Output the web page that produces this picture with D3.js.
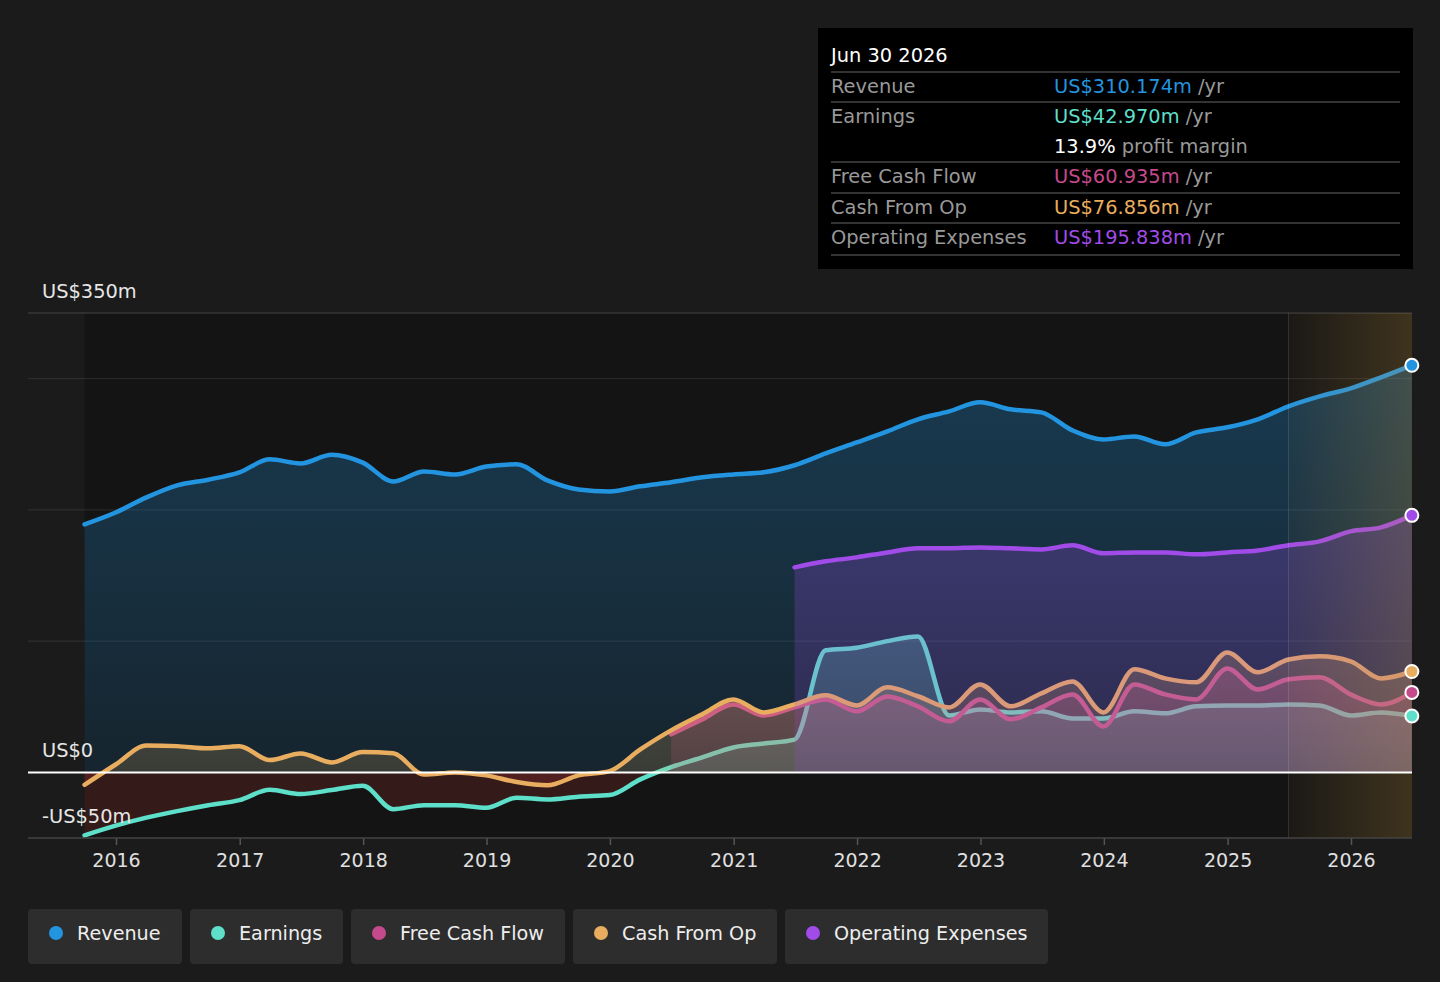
<!DOCTYPE html>
<html>
<head>
<meta charset="utf-8">
<script src="https://cdn.jsdelivr.net/npm/d3@7"></script>
<style>
  html, body { margin: 0; background: #1b1b1b; }
  svg { display: block; font-family: 'DejaVu Sans', sans-serif; }
</style>
</head>
<body>
<div class="main"></div>
<script>
// Paramètres
const width = 1440;
const height = 982;
const plot = { left: 28, right: 1412, top: 313, bottom: 838 };
const fontSize = '19.4px';

// Données (US$m, trimestrielles)
const quarters = [
  '2015-09-30', '2015-12-31',
  '2016-03-31', '2016-06-30', '2016-09-30', '2016-12-31',
  '2017-03-31', '2017-06-30', '2017-09-30', '2017-12-31',
  '2018-03-31', '2018-06-30', '2018-09-30', '2018-12-31',
  '2019-03-31', '2019-06-30', '2019-09-30', '2019-12-31',
  '2020-03-31', '2020-06-30', '2020-09-30', '2020-12-31',
  '2021-03-31', '2021-06-30', '2021-09-30', '2021-12-31',
  '2022-03-31', '2022-06-30', '2022-09-30', '2022-12-31',
  '2023-03-31', '2023-06-30', '2023-09-30', '2023-12-31',
  '2024-03-31', '2024-06-30', '2024-09-30', '2024-12-31',
  '2025-03-31', '2025-06-30', '2025-09-30', '2025-12-31',
  '2026-03-31', '2026-06-30'
];

const revenue = [
  189, 198, 209.5, 218.7, 223, 228.6, 238.5, 235.4, 242, 236,
  221.7, 229.3, 227, 233, 234.7, 222.5, 215.6, 214, 218, 221,
  224.8, 227, 228.6, 234, 243, 251.4, 259.8, 269, 275, 282,
  276.6, 274.3, 260.6, 253.7, 256, 250, 259, 262.9, 269, 278.9,
  286.5, 292.6, 301, 310.174
];

const earnings = [
  -48, -40.6, -34.5, -29.5, -25, -21.1, -13.3, -16.5, -13.5, -10.2,
  -28, -25, -25, -26.9, -19.3, -20.6, -18.5, -17.3, -5.3, 4,
  11.4, 19, 22, 25, 93, 95, 100, 103.6, 43.4, 48,
  45.7, 46.5, 41, 41, 46.5, 45, 50.3, 51, 51, 51.8,
  51, 43.4, 45.7, 42.97
];

const freeCashFlow = [
  null, null, null, null, null, null, null, null, null, null,
  null, null, null, null, null, null, null, null, null, 29,
  40.4, 51.8, 43.4, 49.5, 55.6, 46.5, 57.9, 50.3, 38.9, 55.6,
  40.4, 49.5, 59.4, 35, 67, 59.4, 55.6, 79.2, 63.2, 70.9,
  72.4, 59.4, 51.8, 60.935
];

const cashFromOp = [
  -9.5, 6, 20.5, 20, 18.3, 20, 9.4, 14.4, 7.6, 15.5,
  14.5, -1.7, 0, -2.3, -7.4, -9.9, -2.3, 1, 17.5, 32,
  44.2, 55.6, 45.7, 51.8, 58.7, 51, 64.8, 58, 49.5, 67,
  50.3, 60.2, 69.3, 45.7, 78.5, 71.6, 68.6, 91.4, 76.2, 86,
  88.4, 84.6, 71.6, 76.856
];

const operatingExpenses = [
  null, null, null, null, null, null, null, null, null, null,
  null, null, null, null, null, null, null, null, null, null,
  null, null, null, 156.2, 160.8, 163.8, 167.6, 170.7, 170.7, 171.4,
  170.7, 169.9, 173, 166.9, 167.6, 167.6, 166.1, 167.6, 169.1, 173,
  176, 183.6, 186.7, 195.838
];

const seriesNames = ['Revenue', 'Earnings', 'Free Cash Flow', 'Cash From Op', 'Operating Expenses'];
const seriesValues = [revenue, earnings, freeCashFlow, cashFromOp, operatingExpenses];
const seriesColors = ['#2394df', '#5ddfc9', '#c54a8b', '#e8ad5e', '#a14be8'];

const yearTicks = ['2016', '2017', '2018', '2019', '2020', '2021', '2022', '2023', '2024', '2025', '2026'];
const yLabelValues = [350, 0, -50];
const yLabelTexts = ['US$350m', 'US$0', '-US$50m'];
const gridValues = [300, 200, 100];
const forecastStart = '2025-06-30';

const tooltipTitle = 'Jun 30 2026';
const tooltipValues = ['US$310.174m', 'US$42.970m', 'US$60.935m', 'US$76.856m', 'US$195.838m'];
const profitMargin = '13.9%';

const parseDate = d3.timeParse('%Y-%m-%d');
const dates = quarters.map(parseDate);

// SVG
const svg = d3.select('.main')
  .append('svg')
  .attr('width', width)
  .attr('height', height);

// Échelles
const x = d3.scaleTime()
  .domain([parseDate('2016-01-01'), parseDate('2026-01-01')])
  .range([116, 1351]);

const y = d3.scaleLinear()
  .domain([-50, 350])
  .range([plot.bottom, plot.top]);

const defs = svg.append('defs');

defs.append('clipPath').attr('id', 'clip-pos')
  .append('rect')
  .attr('x', plot.left).attr('y', plot.top)
  .attr('width', plot.right - plot.left).attr('height', y(0) - plot.top);

defs.append('clipPath').attr('id', 'clip-neg')
  .append('rect')
  .attr('x', plot.left).attr('y', y(0))
  .attr('width', plot.right - plot.left).attr('height', plot.bottom - y(0));

seriesColors.forEach((c, i) => {
  const g = defs.append('linearGradient')
    .attr('id', 'grad-' + i)
    .attr('x1', 0).attr('y1', 0).attr('x2', 0).attr('y2', 1);
  g.append('stop').attr('offset', '0%').attr('stop-color', c).attr('stop-opacity', i === 0 ? 0.3 : 0.26);
  g.append('stop').attr('offset', '100%').attr('stop-color', c).attr('stop-opacity', i === 0 ? 0.13 : 0.16);
});

const fg = defs.append('linearGradient')
  .attr('id', 'grad-forecast')
  .attr('x1', 0).attr('y1', 0).attr('x2', 1).attr('y2', 0);
fg.append('stop').attr('offset', '0%').attr('stop-color', '#c8963c').attr('stop-opacity', 0.04);
fg.append('stop').attr('offset', '100%').attr('stop-color', '#c8963c').attr('stop-opacity', 0.24);

// Fond du graphique
svg.append('rect')
  .attr('x', x(dates[0]))
  .attr('y', plot.top)
  .attr('width', plot.right - x(dates[0]))
  .attr('height', plot.bottom - plot.top)
  .attr('fill', '#141414');

// Grille
svg.append('g')
  .selectAll('line')
  .data(gridValues)
  .enter()
  .append('line')
  .attr('x1', plot.left).attr('x2', plot.right)
  .attr('y1', d => y(d)).attr('y2', d => y(d))
  .attr('stroke', '#ffffff')
  .attr('stroke-opacity', 0.1);

svg.append('line')
  .attr('x1', plot.left).attr('x2', plot.right)
  .attr('y1', y(350)).attr('y2', y(350))
  .attr('stroke', '#444');

// Aires et lignes
const area = d3.area()
  .x(d => x(d.date))
  .y0(y(0))
  .y1(d => y(d.value))
  .curve(d3.curveMonotoneX);

const line = d3.line()
  .x(d => x(d.date))
  .y(d => y(d.value))
  .curve(d3.curveMonotoneX);

const series = seriesValues.map((vals, i) => ({
  name: seriesNames[i],
  color: seriesColors[i],
  points: vals.map((v, j) => ({ date: dates[j], value: v })).filter(d => d.value !== null)
}));

const marks = svg.append('g');
series.forEach((s, i) => {
  marks.append('path')
    .datum(s.points)
    .attr('clip-path', 'url(#clip-pos)')
    .attr('fill', `url(#grad-${i})`)
    .attr('d', area);
  marks.append('path')
    .datum(s.points)
    .attr('clip-path', 'url(#clip-neg)')
    .attr('fill', '#dc3c3c')
    .attr('fill-opacity', 0.17)
    .attr('d', area);
  marks.append('path')
    .datum(s.points)
    .attr('fill', 'none')
    .attr('stroke', s.color)
    .attr('stroke-width', 4.5)
    .attr('stroke-linejoin', 'round')
    .attr('stroke-linecap', 'round')
    .attr('d', line);
});

// Zone de prévision
const fx = x(parseDate(forecastStart));
svg.append('rect')
  .attr('x', fx).attr('y', plot.top)
  .attr('width', plot.right - fx).attr('height', plot.bottom - plot.top)
  .attr('fill', 'url(#grad-forecast)');
svg.append('line')
  .attr('x1', fx).attr('x2', fx)
  .attr('y1', plot.top).attr('y2', plot.bottom)
  .attr('stroke', '#ffffff').attr('stroke-opacity', 0.12);

// Ligne zéro
svg.append('line')
  .attr('x1', plot.left).attr('x2', plot.right)
  .attr('y1', y(0)).attr('y2', y(0))
  .attr('stroke', '#ffffff').attr('stroke-width', 2);

// Points finaux
svg.append('g')
  .selectAll('circle')
  .data(series)
  .enter()
  .append('circle')
  .attr('cx', d => x(d.points[d.points.length - 1].date))
  .attr('cy', d => y(d.points[d.points.length - 1].value))
  .attr('r', 6.5)
  .attr('fill', d => d.color)
  .attr('stroke', '#ffffff')
  .attr('stroke-width', 2);

// Axe horizontal
svg.append('g')
  .attr('transform', `translate(0, ${plot.bottom})`)
  .call(d3.axisBottom(x)
    .tickValues(yearTicks.map(t => parseDate(t + '-01-01')))
    .tickFormat(d3.timeFormat('%Y'))
    .tickSize(7)
    .tickPadding(9))
  .call(g => g.select('.domain').remove())
  .call(g => g.selectAll('line').attr('stroke', '#555').attr('stroke-width', 1.5))
  .call(g => g.selectAll('text')
    .attr('fill', '#e0e0e0')
    .style('font-size', '19px')
    .style('font-family', "'DejaVu Sans', sans-serif"));

svg.append('line')
  .attr('x1', plot.left).attr('x2', plot.right)
  .attr('y1', plot.bottom).attr('y2', plot.bottom)
  .attr('stroke', '#444').attr('stroke-width', 1.5);

// Étiquettes verticales
svg.append('g')
  .selectAll('text')
  .data(yLabelValues)
  .enter()
  .append('text')
  .attr('x', 42)
  .attr('y', d => y(d) - 15)
  .attr('fill', '#e6e6e6')
  .style('font-size', fontSize)
  .text((d, i) => yLabelTexts[i]);

// Infobulle
const tip = svg.append('g');
tip.append('rect')
  .attr('x', 818).attr('y', 28)
  .attr('width', 595).attr('height', 241)
  .attr('fill', '#000');
tip.append('text')
  .attr('x', 831).attr('y', 62)
  .attr('fill', '#fff')
  .style('font-size', fontSize)
  .text(tooltipTitle);

const rowY = [93, 123, 183, 214, 244];
const sepY = [72, 102, 162, 193, 223, 255];
tip.selectAll('line')
  .data(sepY)
  .enter()
  .append('line')
  .attr('x1', 831).attr('x2', 1400)
  .attr('y1', d => d).attr('y2', d => d)
  .attr('stroke', '#444').attr('stroke-width', 1.5);

seriesNames.forEach((name, i) => {
  tip.append('text')
    .attr('x', 831).attr('y', rowY[i])
    .attr('fill', '#999')
    .style('font-size', fontSize)
    .text(name);
  const t = tip.append('text')
    .attr('x', 1054).attr('y', rowY[i])
    .style('font-size', fontSize);
  t.append('tspan').attr('fill', seriesColors[i]).text(tooltipValues[i]);
  t.append('tspan').attr('fill', '#999').text(' /yr');
});
const pm = tip.append('text')
  .attr('x', 1054).attr('y', 153)
  .style('font-size', fontSize);
pm.append('tspan').attr('fill', '#fff').text(profitMargin);
pm.append('tspan').attr('fill', '#999').text(' profit margin');

// Légende
const legend = svg.append('g');
let lx = 28;
seriesNames.forEach((name, i) => {
  const item = legend.append('g').attr('transform', `translate(${lx}, 909)`);
  const bg = item.append('rect')
    .attr('height', 55).attr('rx', 4)
    .attr('fill', '#2d2d2d');
  item.append('circle')
    .attr('cx', 28).attr('cy', 24)
    .attr('r', 7)
    .attr('fill', seriesColors[i]);
  const txt = item.append('text')
    .attr('x', 49).attr('y', 31)
    .attr('fill', '#eeeeee')
    .style('font-size', '19.2px')
    .text(name);
  const w = Math.round(49 + txt.node().getComputedTextLength() + 21);
  bg.attr('width', w);
  lx += w + 8;
});
</script>
</body>
</html>
